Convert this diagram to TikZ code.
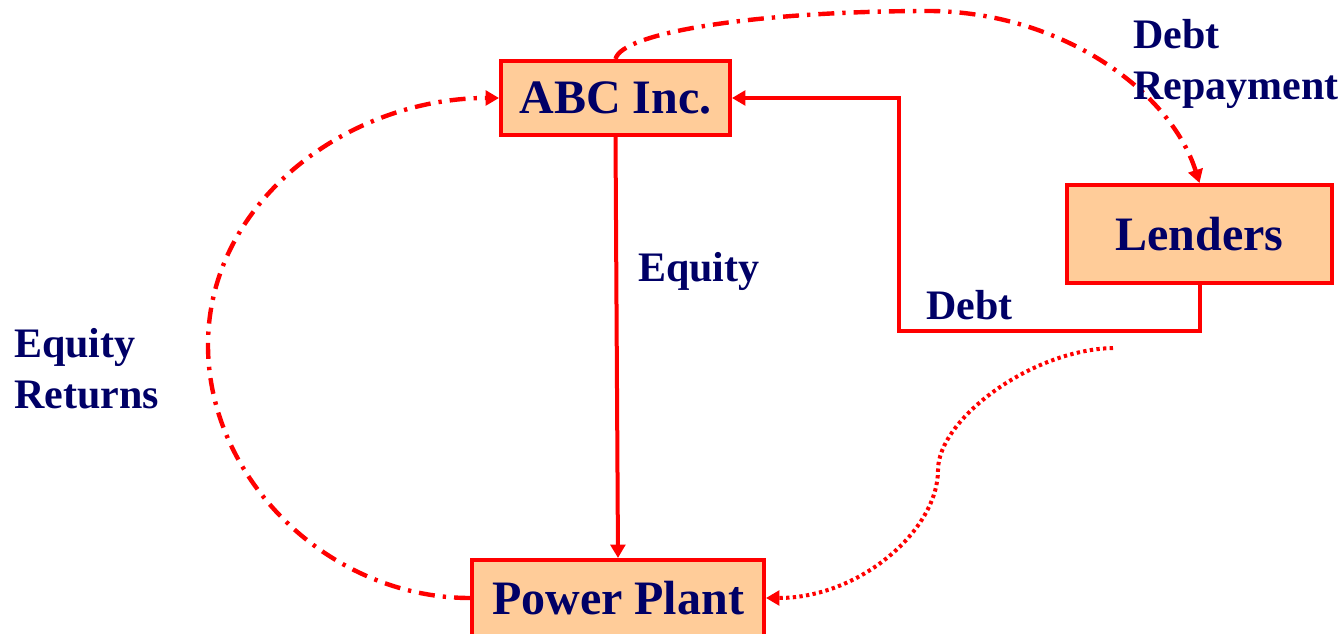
\documentclass[tikz,border=0pt]{standalone}
\usepackage{fontspec}
\setmainfont{Liberation Serif}
\usetikzlibrary{arrows.meta}
\definecolor{peach}{RGB}{255,204,153}
\definecolor{navy}{RGB}{0,0,102}
\begin{document}
\begin{tikzpicture}[x=0.75pt,y=-0.75pt,
  box/.style={draw=red, line width=3pt, fill=peach, text=navy,
    font=\bfseries\fontsize{36}{40}\selectfont, inner sep=0pt},
  lbl/.style={text=navy, font=\bfseries\fontsize{31.5}{38.25}\selectfont,
    inner sep=0pt, align=left, anchor=base west},
  link/.style={draw=red, line width=3pt, -{Triangle[length=10pt,width=11pt]}},
  dashdot/.style={line width=3.3pt, dash pattern=on 12pt off 6pt on 2.5pt off 6pt},
  dots/.style={dash pattern=on 2.5pt off 2.5pt}]
\clip (0,0) rectangle (1342,634);
\node[box, minimum width=171.75pt, minimum height=55.5pt] (abc) at (615.5,98) {ABC Inc.};
\node[box, minimum width=198.75pt, minimum height=73.5pt] (lenders) at (1199.5,234) {Lenders};
\node[box, minimum width=219pt, minimum height=57pt] (pp) at (618,598) {Power Plant};

\coordinate (dc) at (899,331);
\coordinate (rtop) at (930,11);
\coordinate (eleft) at (208,345);
\coordinate (dstart) at (1113,348);
\coordinate (dmid) at (938,470);

% Equity
\draw[link] (abc.south) -- (pp.north);
% Debt
\draw[link] (lenders.south) |- (dc) |- (abc.east);
% Debt repayment
\draw[link, dashdot] (abc.north) .. controls (622,32) and (760,11) .. (rtop)
  .. controls (1060,12) and (1170,90) .. (lenders.north);
% Equity returns
\draw[link, dashdot] (pp.west) .. controls (330,598) and (208,480) .. (eleft)
  .. controls (208,200) and (350,98) .. (abc.west);
% Dotted flow
\draw[link, dots] (dstart) .. controls (1030,350) and (938,420) .. (dmid)
  .. controls (938,530) and (860,598) .. (pp.east);

\node[lbl] (leq) at (638,282) {Equity};
\node[lbl] (ldebt) at (926,320) {Debt};
\node[lbl] (lrep) at (1133,100) {Debt\\Repayment};
\node[lbl] (lret) at (14,408) {Equity\\Returns};
\end{tikzpicture}
\end{document}
